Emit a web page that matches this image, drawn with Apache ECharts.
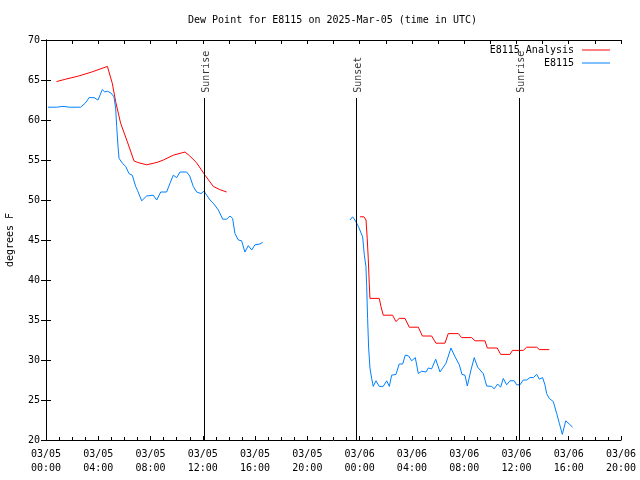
<!DOCTYPE html>
<html><head><meta charset="utf-8">
<script src="https://cdn.jsdelivr.net/npm/echarts@6/dist/echarts.min.js"></script>
<style>html,body{margin:0;padding:0;background:#fff}#c{width:640px;height:480px}</style>
</head><body><div id="c"></div>
<script>
const titleText = 'Dew Point for E8115 on 2025-Mar-05 (time in UTC)';
const xTickLabels = ['03/05\n00:00','03/05\n04:00','03/05\n08:00','03/05\n12:00','03/05\n16:00','03/05\n20:00','03/06\n00:00','03/06\n04:00','03/06\n08:00','03/06\n12:00','03/06\n16:00','03/06\n20:00'];
const seriesNames = ['E8115 Analysis','E8115'];
// [hour since 03/05 00:00 UTC, degrees F]
const analysisDay1 = [[0.8,64.8],[1.5,65.1],[2.5,65.5],[3.5,66.0],[4.7,66.7],[5.07,64.6],[5.33,62.3],[5.71,59.6],[6.22,57.3],[6.73,54.9],[7.0,54.7],[7.7,54.4],[8.5,54.7],[8.98,55.0],[9.74,55.6],[10.64,56.0],[11.0,55.5],[11.5,54.7],[12.17,53.1],[12.8,51.7],[13.3,51.3],[13.82,51.0]];
const analysisDay2 = [[24.03,47.9],[24.33,47.9],[24.49,47.5],[24.58,45.2],[24.66,42.7],[24.74,39.4],[24.79,37.7],[25.5,37.7],[25.63,36.7],[25.81,35.6],[26.52,35.6],[26.78,34.8],[27.03,35.2],[27.47,35.2],[27.8,34.1],[28.49,34.1],[28.8,33.0],[29.51,33.0],[29.84,32.1],[30.53,32.1],[30.78,33.3],[31.55,33.3],[31.8,32.8],[32.57,32.8],[32.83,32.4],[33.59,32.4],[33.77,31.5],[34.53,31.5],[34.79,30.7],[35.5,30.7],[35.7,31.2],[36.52,31.2],[36.78,31.6],[37.55,31.6],[37.75,31.3],[38.51,31.3]];
const obsDay1 = [[0.15,61.6],[0.8,61.6],[1.3,61.7],[1.8,61.6],[2.3,61.6],[2.65,61.6],[3.0,62.1],[3.3,62.8],[3.67,62.8],[3.98,62.5],[4.31,63.8],[4.5,63.5],[4.69,63.6],[4.95,63.4],[5.2,62.9],[5.33,61.5],[5.41,59.2],[5.51,56.7],[5.59,55.2],[5.84,54.6],[6.1,54.2],[6.35,53.3],[6.6,53.1],[6.86,51.7],[7.0,51.2],[7.32,49.9],[7.7,50.5],[8.21,50.6],[8.47,50.0],[8.78,51.0],[9.23,51.0],[9.49,52.1],[9.74,53.1],[10.0,52.8],[10.25,53.5],[10.76,53.5],[11.0,53.0],[11.27,51.7],[11.53,51.0],[11.86,50.8],[12.09,51.1],[12.3,50.6],[12.55,50.0],[12.8,49.6],[13.19,48.75],[13.52,47.6],[13.82,47.6],[14.08,48.0],[14.28,47.7],[14.46,45.8],[14.72,45.0],[14.97,44.9],[15.22,43.5],[15.48,44.3],[15.74,43.75],[15.99,44.4],[16.37,44.5],[16.58,44.7]];
const obsDay2 = [[23.26,47.5],[23.46,47.9],[23.64,47.5],[23.9,46.7],[24.23,45.4],[24.36,43.1],[24.48,41.7],[24.54,39.2],[24.61,35.2],[24.69,31.5],[24.79,29.0],[24.92,27.7],[25.04,26.7],[25.25,27.4],[25.5,26.7],[25.8,26.7],[26.07,27.4],[26.27,26.7],[26.45,28.1],[26.78,28.2],[27.03,29.5],[27.29,29.5],[27.49,30.6],[27.75,30.5],[27.98,29.9],[28.26,30.3],[28.49,28.3],[28.75,28.6],[29.08,28.5],[29.25,29.0],[29.51,28.9],[29.82,30.1],[30.15,28.5],[30.61,29.6],[30.99,31.5],[31.3,30.4],[31.63,29.4],[31.83,28.2],[32.06,28.1],[32.24,26.75],[32.52,28.75],[32.77,30.3],[33.03,29.1],[33.46,28.3],[33.72,26.75],[34.1,26.7],[34.3,26.4],[34.56,27.0],[34.79,26.6],[34.99,27.7],[35.25,26.9],[35.5,27.4],[35.83,27.4],[36.01,26.9],[36.27,26.9],[36.52,27.5],[36.78,27.5],[37.03,27.8],[37.29,27.8],[37.55,28.2],[37.75,27.6],[38.0,27.8],[38.18,26.9],[38.31,25.8],[38.51,25.2],[38.82,24.8],[39.08,23.3],[39.28,22.1],[39.51,20.7],[39.77,22.4],[40.04,22.0],[40.3,21.6]];
const sunEventNames = ['Sunrise','Sunset','Sunrise'];
const sunEventHours = [12.1, 23.73, 36.22];

const FONT = 'DejaVu Sans Mono';
const chart = echarts.init(document.getElementById('c'), null, {renderer:'canvas'});
const lineTop = 62.75, yMin = 20, yMax = 70;
const markData = sunEventHours.map(h => [{coord:[h, lineTop]},{coord:[h, yMin]}]);
const labelData = sunEventHours.map((h,i) => [h + 0.19, 63.4, sunEventNames[i]]);

chart.setOption({
  animation:false,
  backgroundColor:'#fff',
  textStyle:{fontFamily:FONT},
  title:{text:titleText, left:183, top:10, textStyle:{fontFamily:FONT, fontSize:10, fontWeight:'normal', color:'#000'}},
  legend:{data:seriesNames, orient:'vertical', right:30, top:45, padding:0, align:'right', itemWidth:28, itemHeight:1, itemGap:3, icon:'rect',
    textStyle:{fontFamily:FONT, fontSize:10, color:'#000', padding:[0,3,0,0]}},
  grid:{left:46, right:19, top:40, bottom:40, containLabel:false, outerBoundsMode:'none'},
  xAxis:[{type:'value', min:0, max:44, interval:4, position:'bottom',
      axisLine:{lineStyle:{color:'#000', width:1}},
      axisTick:{inside:true, length:4, lineStyle:{color:'#000'}},
      minorTick:{show:true, splitNumber:4, length:3, lineStyle:{color:'#000'}},
      splitLine:{show:false},
      axisLabel:{fontFamily:FONT, fontSize:10, color:'#000', margin:7, lineHeight:14, formatter:v => xTickLabels[Math.round(v/4)]}},
    {type:'value', min:0, max:44, interval:2, position:'top',
      axisLine:{lineStyle:{color:'#000', width:1}},
      axisTick:{inside:true, length:4, lineStyle:{color:'#000'}},
      splitLine:{show:false}, axisLabel:{show:false}}],
  yAxis:[{type:'value', min:yMin, max:yMax, interval:5, position:'left',
      name:'degrees F', nameLocation:'middle', nameGap:31, nameRotate:90,
      nameTextStyle:{fontFamily:FONT, fontSize:10, color:'#000'},
      axisLine:{show:true, lineStyle:{color:'#000', width:1}},
      axisTick:{show:true, inside:true, length:5, lineStyle:{color:'#000'}},
      splitLine:{show:false},
      axisLabel:{fontFamily:FONT, fontSize:10, color:'#000', margin:6}},
    {type:'value', min:yMin, max:yMax, interval:5, position:'right',
      axisLine:{show:true, lineStyle:{color:'#000', width:1}},
      axisTick:{show:true, inside:true, length:5, lineStyle:{color:'#000'}},
      splitLine:{show:false}, axisLabel:{show:false}}],
  series:[
    {name:'E8115 Analysis', type:'line', data:analysisDay1.concat([[20,null]], analysisDay2), connectNulls:false,
      showSymbol:false, symbol:'none', lineStyle:{color:'#ff0000', width:1}, itemStyle:{color:'#ff0000'}, z:3},
    {name:'E8115', type:'line', data:obsDay1.concat([[20,null]], obsDay2), connectNulls:false,
      showSymbol:false, symbol:'none', lineStyle:{color:'#0080ff', width:1}, itemStyle:{color:'#0080ff'}, z:3},
    {name:'sun', type:'scatter', data:labelData, symbolSize:0, silent:true, z:4,
      label:{show:true, position:[0,0], rotate:90, align:'left', verticalAlign:'middle',
        formatter:p => p.data[2], fontFamily:FONT, fontSize:10, color:'#000'},
      markLine:{silent:true, symbol:['none','none'], label:{show:false},
        lineStyle:{color:'#000', width:1, type:'solid'}, data:markData}}
  ]
});
</script></body></html>
